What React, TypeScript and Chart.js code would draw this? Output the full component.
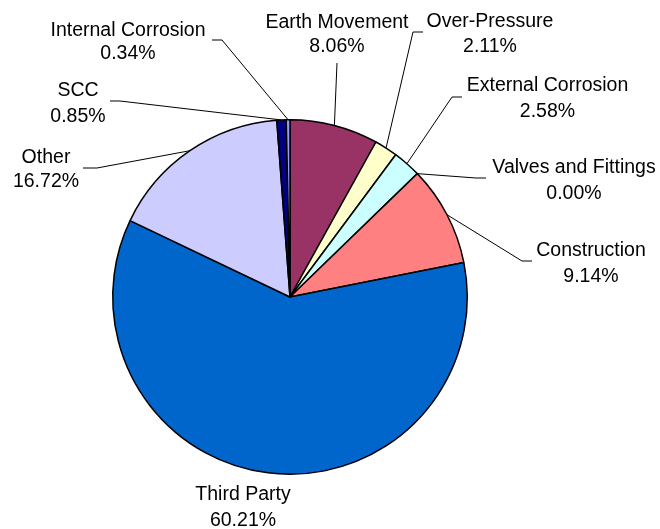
import React, { useEffect, useRef } from "react";
import { Chart, registerables } from "chart.js";

Chart.register(...registerables);

// Pipeline incident causes, share of total (%), clockwise from 12 o'clock
const categories = [
  "Earth Movement",
  "Over-Pressure",
  "External Corrosion",
  "Valves and Fittings",
  "Construction",
  "Third Party",
  "Other",
  "SCC",
  "Internal Corrosion",
];
const shares = [8.06, 2.11, 2.58, 0.0, 9.14, 60.21, 16.72, 0.85, 0.34];
const sliceColors = [
  "#993366",
  "#FFFFCC",
  "#CCFFFF",
  "#660066",
  "#FF8080",
  "#0066CC",
  "#CCCCFF",
  "#000080",
  "#9999FF",
];

// Label placement: text centre x, centre y of name line, centre y of value line
const labelPlacement: [number, number, number][] = [
  [337, 21.5, 45.5],
  [490, 20, 45.5],
  [547.5, 84, 110],
  [574, 166, 192],
  [591, 249, 275],
  [243, 493.5, 519],
  [46, 156, 180],
  [78, 89, 115],
  [128, 29, 52.5],
];
// Leader lines: elbow point (x, y) and end of the short horizontal tail
const leaderPlacement: ([number, number, number] | null)[] = [
  [337, 63, 337],
  [413, 32, 423],
  [452, 97, 462],
  [476, 178, 486],
  [522, 261, 532],
  null,
  [97, 168, 83],
  [120, 101, 110],
  [222, 40, 212],
];

const FONT_SIZE = 19.5;
const FONT = `${FONT_SIZE}px "Liberation Sans", Arial, sans-serif`;

const calloutPlugin = {
  id: "callouts",
  afterDraw(chart: any) {
    const ctx = chart.ctx as CanvasRenderingContext2D;
    const arcs = chart.getDatasetMeta(0).data;
    ctx.save();
    ctx.strokeStyle = "#000000";
    ctx.lineWidth = 1;
    arcs.forEach((arc: any, i: number) => {
      const leader = leaderPlacement[i];
      if (!leader) return;
      const { x, y, startAngle, endAngle, outerRadius } = arc.getProps(
        ["x", "y", "startAngle", "endAngle", "outerRadius"],
        true
      );
      const mid = (startAngle + endAngle) / 2;
      const ax = x + Math.cos(mid) * outerRadius;
      const ay = y + Math.sin(mid) * outerRadius;
      ctx.beginPath();
      ctx.moveTo(ax, ay);
      ctx.lineTo(leader[0], leader[1]);
      ctx.lineTo(leader[2], leader[1]);
      ctx.stroke();
    });
    ctx.fillStyle = "#000000";
    ctx.font = FONT;
    ctx.textAlign = "center";
    ctx.textBaseline = "alphabetic";
    const capShift = FONT_SIZE * 0.358;
    categories.forEach((name, i) => {
      const [cx, y1, y2] = labelPlacement[i];
      ctx.fillText(name, cx, y1 + capShift);
      ctx.fillText(`${shares[i].toFixed(2)}%`, cx, y2 + capShift);
    });
    ctx.restore();
  },
};

export default function App() {
  const canvasRef = useRef<HTMLCanvasElement | null>(null);

  useEffect(() => {
    document.body.style.margin = "0";
    const canvas = canvasRef.current;
    if (!canvas) return;
    const chart = new Chart(canvas, {
      type: "pie",
      data: {
        labels: categories,
        datasets: [
          {
            data: shares,
            backgroundColor: sliceColors,
            borderColor: "#000000",
            borderWidth: 1.5,
          },
        ],
      },
      options: {
        responsive: false,
        animation: false,
        devicePixelRatio: 1,
        layout: { padding: { left: 112, right: 192, top: 119, bottom: 54 } },
        plugins: {
          legend: { display: false },
          tooltip: { enabled: false },
          title: { display: false },
        },
      },
      plugins: [calloutPlugin],
    });
    return () => chart.destroy();
  }, []);

  return (
    <div style={{ width: 660, height: 529, background: "#ffffff" }}>
      <canvas ref={canvasRef} width={660} height={529} style={{ display: "block" }} />
    </div>
  );
}
